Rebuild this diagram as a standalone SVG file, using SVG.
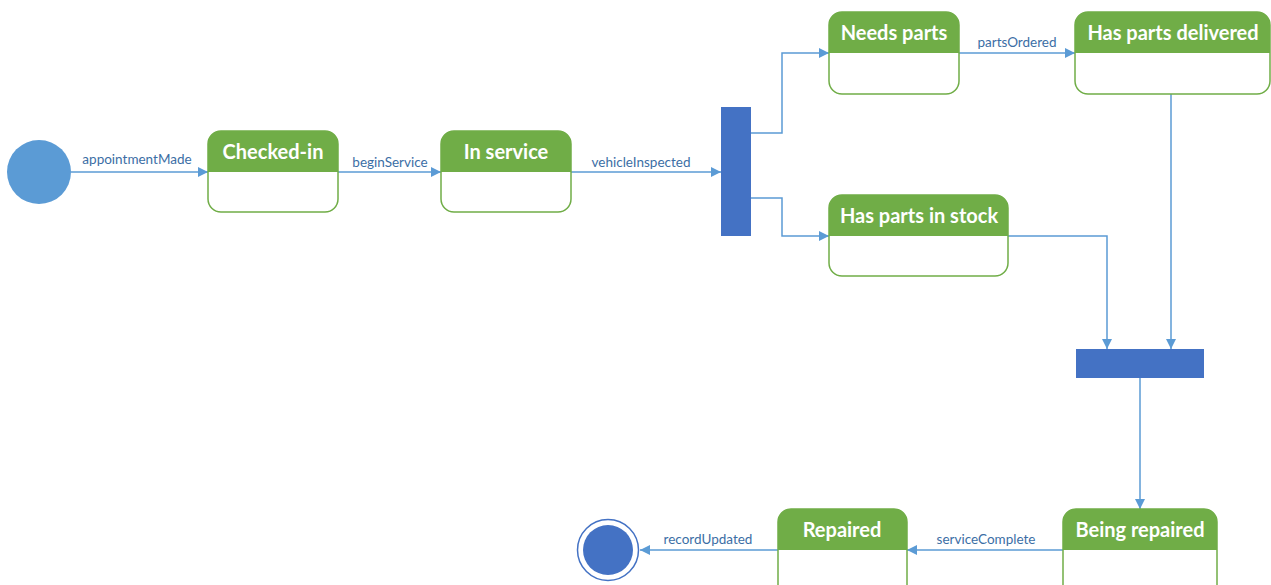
<svg xmlns="http://www.w3.org/2000/svg" width="1271" height="585" viewBox="0 0 1271 585">
<style>
.box{fill:#fff;stroke:#70AD47;stroke-width:1.5}
.hdr{fill:#70AD47}
.title{font-family:Lato,"Open Sans",sans-serif;font-weight:700;font-size:20px;fill:#fff;text-anchor:middle}
.lbl{font-family:Lato,"Open Sans",sans-serif;font-size:13.5px;fill:#3B6EA5;text-anchor:middle}
.con{fill:none;stroke:#5B9BD5;stroke-width:1.5;marker-end:url(#arr)}
.bar{fill:#4472C4}
</style>
<defs>
<marker id="arr" viewBox="0 0 10 10" refX="10" refY="5" markerWidth="10" markerHeight="10" markerUnits="userSpaceOnUse" orient="auto">
<path d="M0,0 L10,5 L0,10 Z" fill="#5B9BD5"/>
</marker>
</defs>
<g id="connectors">
<path class="con" d="M71,172 H208"/>
<path class="con" d="M338,172 H441"/>
<path class="con" d="M571,172 H721"/>
<path class="con" d="M751,133 H782 V53 H829"/>
<path class="con" d="M751,198 H782 V236 H829"/>
<path class="con" d="M959,53 H1075"/>
<path class="con" d="M1008,236 H1107 V349"/>
<path class="con" d="M1171,94 V349"/>
<path class="con" d="M1140,378 V509"/>
<path class="con" d="M1063,550 H907"/>
<path class="con" d="M778,550 H640"/>
<text class="lbl" x="137" y="164">appointmentMade</text>
<text class="lbl" x="390" y="167">beginService</text>
<text class="lbl" x="641" y="167">vehicleInspected</text>
<text class="lbl" x="1017" y="47">partsOrdered</text>
<text class="lbl" x="986" y="544">serviceComplete</text>
<text class="lbl" x="708" y="544">recordUpdated</text>
</g>
<g id="initial"><circle cx="39" cy="172" r="32" fill="#5B9BD5"/></g>
<g id="checked-in">
<rect class="box" x="208" y="131" width="130" height="81" rx="13"/>
<path class="hdr" d="M208,172 V144 A13,13 0 0 1 221,131 H325 A13,13 0 0 1 338,144 V172 Z"/>
<text class="title" x="273" y="159">Checked-in</text>
</g>
<g id="in-service">
<rect class="box" x="441" y="131" width="130" height="81" rx="13"/>
<path class="hdr" d="M441,172 V144 A13,13 0 0 1 454,131 H558 A13,13 0 0 1 571,144 V172 Z"/>
<text class="title" x="506" y="159">In service</text>
</g>
<g id="fork"><rect class="bar" x="721" y="107" width="30" height="129"/></g>
<g id="needs-parts">
<rect class="box" x="829" y="12" width="130" height="82" rx="13"/>
<path class="hdr" d="M829,53 V25 A13,13 0 0 1 842,12 H946 A13,13 0 0 1 959,25 V53 Z"/>
<text class="title" x="894" y="40">Needs parts</text>
</g>
<g id="has-parts-delivered">
<rect class="box" x="1075" y="12" width="195" height="82" rx="13"/>
<path class="hdr" d="M1075,53 V25 A13,13 0 0 1 1088,12 H1257 A13,13 0 0 1 1270,25 V53 Z"/>
<text class="title" x="1173" y="40">Has parts delivered</text>
</g>
<g id="has-parts-in-stock">
<rect class="box" x="829" y="195" width="179" height="81" rx="13"/>
<path class="hdr" d="M829,236 V208 A13,13 0 0 1 842,195 H995 A13,13 0 0 1 1008,208 V236 Z"/>
<text class="title" x="919" y="223">Has parts in stock</text>
</g>
<g id="join"><rect class="bar" x="1076" y="349" width="128" height="29"/></g>
<g id="being-repaired">
<rect class="box" x="1063" y="509" width="154" height="90" rx="13"/>
<path class="hdr" d="M1063,550 V522 A13,13 0 0 1 1076,509 H1204 A13,13 0 0 1 1217,522 V550 Z"/>
<text class="title" x="1140" y="537">Being repaired</text>
</g>
<g id="repaired">
<rect class="box" x="778" y="509" width="129" height="90" rx="13"/>
<path class="hdr" d="M778,550 V522 A13,13 0 0 1 791,509 H894 A13,13 0 0 1 907,522 V550 Z"/>
<text class="title" x="842" y="537">Repaired</text>
</g>
<g id="final">
<circle cx="608" cy="550" r="30.5" fill="#fff" stroke="#4472C4" stroke-width="1.5"/>
<circle cx="608" cy="550" r="25" fill="#4472C4"/>
</g>
</svg>
